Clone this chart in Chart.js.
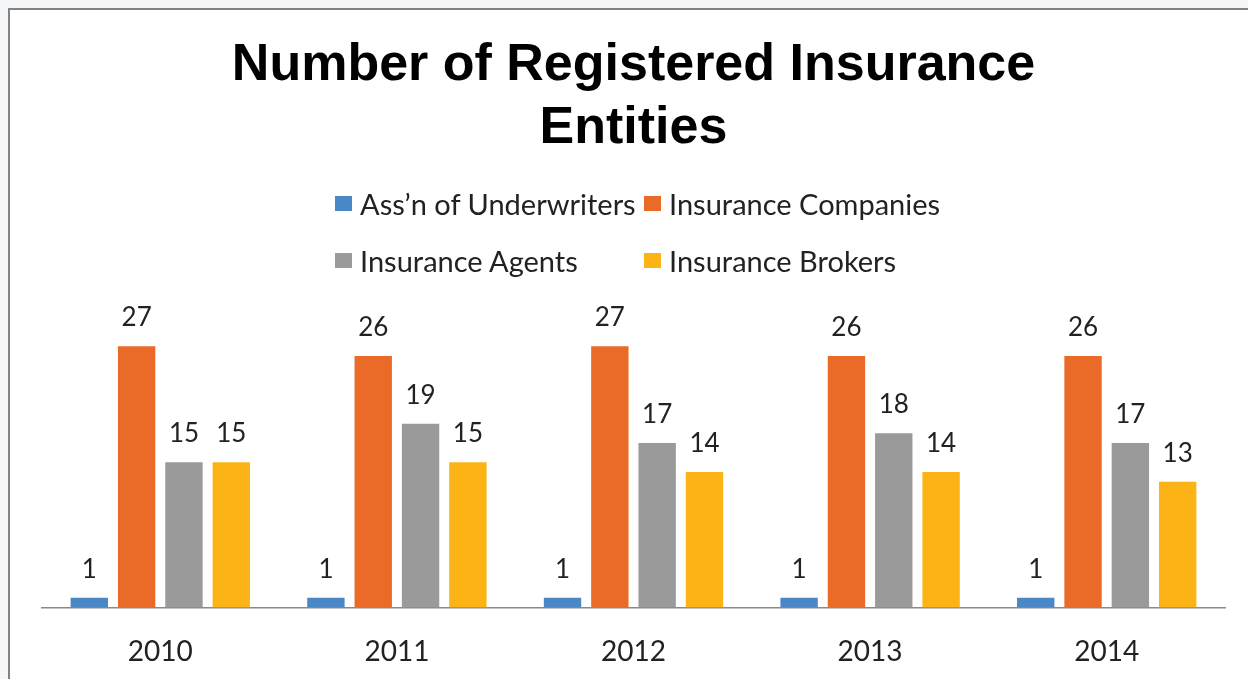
<!DOCTYPE html>
<html>
<head>
<meta charset="utf-8">
<title>Number of Registered Insurance Entities</title>
<script src="https://cdn.jsdelivr.net/npm/chart.js@4.4.1/dist/chart.umd.min.js"></script>
<style>
  html, body { margin: 0; padding: 0; width: 1248px; height: 679px; overflow: hidden; background: #f6f7f8; }
  #frame { position: absolute; left: 8px; top: 8px; width: 1270px; height: 700px; background: #fff; border: 2px solid #828282; }
  #chart { position: absolute; left: 0; top: 0; }
  #legend {
    position: absolute; left: 335px; top: 175px;
    display: grid; grid-template-columns: 309px auto; grid-auto-rows: 57px;
    font-family: Lato, sans-serif; font-size: 29px; color: #222;
  }
  .item { display: flex; align-items: center; white-space: nowrap; }
  .box { width: 17px; height: 15px; margin-right: 8px; flex: none; }
</style>
</head>
<body>
<div id="frame"></div>
<canvas id="chart" width="1248" height="709"></canvas>
<div id="legend"></div>
<script>
const years = ['2010', '2011', '2012', '2013', '2014'];
const underwriters = [1, 1, 1, 1, 1];
const companies = [27, 26, 27, 26, 26];
const agents = [15, 19, 17, 18, 17];
const brokers = [15, 15, 14, 14, 13];

// numbers above each bar
const valueLabels = {
  id: 'valueLabels',
  afterDatasetsDraw(chart) {
    const ctx = chart.ctx;
    ctx.save();
    ctx.font = '26px Lato, sans-serif';
    ctx.fillStyle = '#222';
    ctx.textAlign = 'center';
    ctx.textBaseline = 'alphabetic';
    chart.data.datasets.forEach((ds, i) => {
      chart.getDatasetMeta(i).data.forEach((bar, j) => {
        ctx.fillText(ds.data[j], bar.x, bar.y - 20);
      });
    });
    ctx.restore();
  }
};

const ctx = document.getElementById('chart').getContext('2d');
const chart = new Chart(ctx, {
  type: 'bar',
  data: {
    labels: years,
    datasets: [
      { label: 'Ass\u2019n of Underwriters', data: underwriters, backgroundColor: '#4a87c7' },
      { label: 'Insurance Companies', data: companies, backgroundColor: '#ea6b27' },
      { label: 'Insurance Agents', data: agents, backgroundColor: '#9a9a9a' },
      { label: 'Insurance Brokers', data: brokers, backgroundColor: '#fcb316' }
    ]
  },
  options: {
    responsive: false,
    animation: false,
    categoryPercentage: 0.8,
    barPercentage: 0.79,
    layout: { padding: { left: 42, right: 23, top: 0, bottom: 12 } },
    plugins: {
      legend: { display: false },
      tooltip: { enabled: false },
      title: {
        display: true,
        text: ['Number of Registered Insurance', 'Entities'],
        color: '#000',
        font: { family: "'Liberation Sans', Arial, sans-serif", size: 52, weight: 'bold', lineHeight: 63 / 52 },
        padding: { top: 34.5, bottom: 137.5 }
      }
    },
    scales: {
      x: {
        grid: { display: false, drawTicks: false },
        border: { display: true, color: '#8a8a8a', width: 1.5 },
        ticks: { color: '#222', font: { family: 'Lato, sans-serif', size: 28 }, padding: 28 }
      },
      y: { display: false, min: 0, max: 32 }
    }
  },
  plugins: [valueLabels]
});

// legend laid out in two aligned columns, as in the original
const legend = document.getElementById('legend');
chart.data.datasets.forEach(ds => {
  const item = document.createElement('div');
  item.className = 'item';
  const box = document.createElement('span');
  box.className = 'box';
  box.style.background = ds.backgroundColor;
  item.appendChild(box);
  item.appendChild(document.createTextNode(ds.label));
  legend.appendChild(item);
});
</script>
</body>
</html>
